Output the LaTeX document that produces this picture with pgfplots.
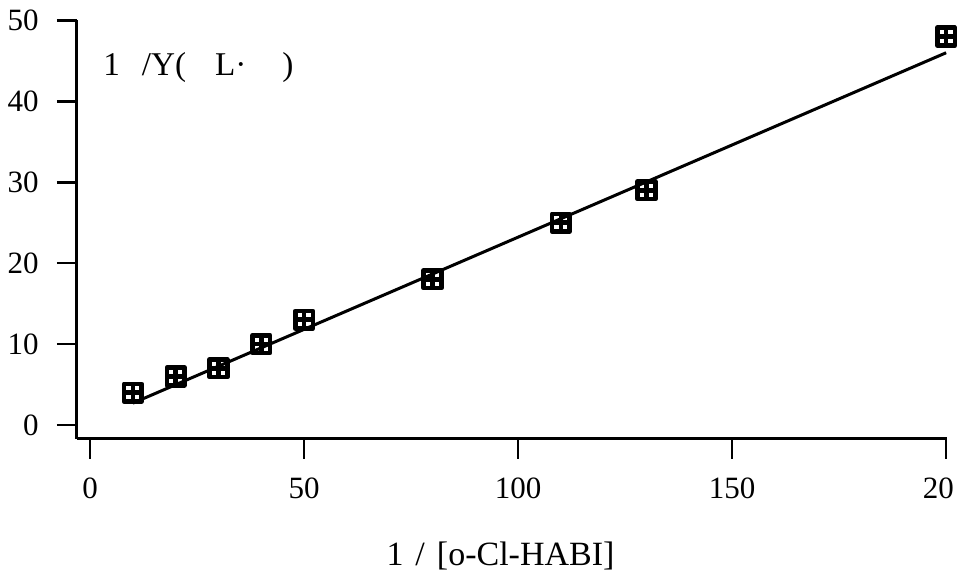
\documentclass[border=0pt]{standalone}
\usepackage{fontspec}
\setmainfont{Liberation Serif}
\usepackage{pgfplots}
\pgfplotsset{compat=1.18}
\pgfdeclareplotmark{boxplus}{%
  \pgfpathrectangle{\pgfpoint{-\pgfplotmarksize}{-\pgfplotmarksize}}{\pgfpoint{2\pgfplotmarksize}{2\pgfplotmarksize}}%
  \pgfpathmoveto{\pgfpoint{-\pgfplotmarksize}{0pt}}\pgfpathlineto{\pgfpoint{\pgfplotmarksize}{0pt}}%
  \pgfpathmoveto{\pgfpoint{0pt}{-\pgfplotmarksize}}\pgfpathlineto{\pgfpoint{0pt}{\pgfplotmarksize}}%
  \pgfusepathqstroke}
\begin{document}
\fontsize{15}{18}\selectfont
\begin{tikzpicture}
\useasboundingbox (-38.5pt,-68.5pt) rectangle (441pt,219.5pt);
\begin{axis}[
  at={(0pt,0pt)}, anchor=south west,
  scale only axis, width=435pt, height=209.5pt,
  xmin=-3.04, xmax=200.2, ymin=-1.73, ymax=50.05,
  axis lines*=left,
  axis line style={line width=1.5pt, -},
  xtick={0,50,100,150,200},
  xticklabels={0,50,100,150,20\phantom{0}},
  ytick={0,10,20,30,40,50},
  tick align=outside,
  major tick length=10pt,
  tick style={line width=1.3pt, black},
  /pgf/number format/assume math mode=true,
  every tick label/.append style={font=\fontsize{15.5}{18}\selectfont},
  xticklabel style={yshift=-4pt},
  yticklabel style={xshift=-4pt},
  clip=false,
]
\addplot[black, line width=1.5pt] coordinates {(10,2.7) (200,46.0)};
\addplot[only marks, mark=boxplus, mark size=4.4pt, mark options={line width=2.3pt, black, line join=round}] coordinates {
  (10,4) (20,6) (30,7) (40,10) (50,13) (80,18) (110,25) (130,29) (200,48)
};
\node[anchor=base west, inner sep=0pt, font=\fontsize{16.6}{19}\selectfont] at (axis cs:3.0,43.2)
  {1\hspace{11pt}/Y(\hspace{14.5pt}L·\hspace{18pt})};
\node[anchor=base, inner sep=0pt, font=\fontsize{17}{19}\selectfont, xshift=-5.75pt, yshift=-63.5pt] at (rel axis cs:0.5,0)
  {1\hspace{6pt}/\hspace{6pt}[o-Cl-HABI]};
\end{axis}
\end{tikzpicture}
\end{document}
